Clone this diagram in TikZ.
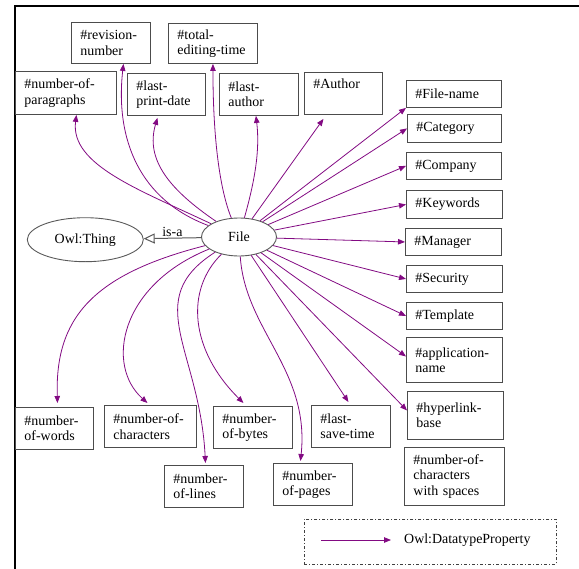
\documentclass[tikz,border=0pt]{standalone}
\usepackage{fontspec}
\setmainfont{Liberation Serif}
\usetikzlibrary{arrows.meta, shapes.geometric}
\definecolor{owlpurple}{RGB}{130,10,130}

\begin{document}
\begin{tikzpicture}[
    x=1bp, y=-1bp,
    >={Triangle[length=7bp, width=5.5bp]},
    pbox/.style={draw=black!70, line width=0.9bp, anchor=north west,
                 align=left, inner xsep=9bp, inner ysep=2bp,
                 font=\fontsize{14}{15.5}\selectfont},
    cls/.style={ellipse, draw=black!65, line width=0.9bp, inner sep=0pt,
                font=\fontsize{14}{15.5}\selectfont},
    dprop/.style={->, draw=owlpurple, line width=0.8bp},
    isa/.style={-{Triangle[open, length=11bp, width=10bp]}, draw=black!65,
                line width=1bp},
    legendbox/.style={draw=black!75, line width=0.8bp,
                      dash pattern=on 3bp off 2bp on 1bp off 2bp}
  ]
  \useasboundingbox (0,0) rectangle (579,569);
  % frame
  \draw[line width=2.3bp] (14.8,569) -- (14.8,5.8) -- (579,5.8);

  % classes
  \node[cls, minimum width=116bp, minimum height=44bp] (thing) at (85.3,239.7) {Owl:Thing};
  \node[cls, minimum width=75bp, minimum height=38bp] (file) at (239,237) {File};
  \draw[isa] (file) -- (thing) node[midway, above, font=\fontsize{14}{15.5}\selectfont, inner sep=1bp] {is-a};

  % upper properties
  \node[pbox, text width=61bp, minimum height=41bp] (revision) at (71,22) {\#revision-\\number};
  \node[pbox, text width=71bp, minimum height=40bp] (editing) at (168,23) {\#total-\\editing-time};
  \node[pbox, text width=83bp, minimum height=43bp] (paragraphs) at (15,71) {\#number-of-\\paragraphs};
  \node[pbox, text width=60bp, minimum height=42bp] (lastprint) at (127,73) {\#last-\\print-date};
  \node[pbox, text width=61bp, minimum height=42bp] (lastauthor) at (219,73) {\#last-\\author};
  \node[pbox, text width=60bp, minimum height=42bp] (author) at (304,72) {\#Author\\\strut};

  % right properties
  \node[pbox, text width=77bp, minimum height=27bp] (filename) at (406,80) {\#File-name};
  \node[pbox, text width=76bp, minimum height=28bp] (category) at (407,114) {\#Category};
  \node[pbox, text width=77bp, minimum height=27bp] (company) at (406,152) {\#Company};
  \node[pbox, text width=78bp, minimum height=28bp] (keywords) at (406,190) {\#Keywords};
  \node[pbox, text width=78bp, minimum height=27bp] (manager) at (405,228) {\#Manager};
  \node[pbox, text width=78bp, minimum height=27bp] (security) at (406,265) {\#Security};
  \node[pbox, text width=78bp, minimum height=27bp] (template) at (406,302) {\#Template};
  \node[pbox, text width=78bp, minimum height=45bp] (appname) at (406,337) {\#application-\\name};
  \node[pbox, text width=78bp, minimum height=48bp] (hyperlink) at (407,391) {\#hyperlink-\\base};
  \node[pbox, text width=82bp, minimum height=58bp] (charspaces) at (404,447) {\#number-of-\\characters\\with spaces};

  % lower properties
  \node[pbox, text width=60bp, minimum height=42bp] (words) at (15,407) {\#number-\\of-words};
  \node[pbox, text width=74bp, minimum height=42bp] (characters) at (104,405) {\#number-of-\\characters};
  \node[pbox, text width=61bp, minimum height=42bp] (bytes) at (213,406) {\#number-\\of-bytes};
  \node[pbox, text width=61bp, minimum height=42bp] (lines) at (164,465) {\#number-\\of-lines};
  \node[pbox, text width=61bp, minimum height=42bp] (pages) at (273,463) {\#number-\\of-pages};
  \node[pbox, text width=61bp, minimum height=42bp] (savetime) at (311,405) {\#last-\\save-time};

  % datatype properties, upper
  \draw[dprop] (file) .. controls (140,190) and (70,165) .. ([xshift=10.5bp]paragraphs.south);
  \draw[dprop] (file) .. controls (140,200) and (115,140) .. ([xshift=12.5bp]revision.south);
  \draw[dprop] (file) .. controls (170,190) and (145,160) .. ([xshift=-9bp, yshift=-2bp]lastprint.south);
  \draw[dprop] (file) .. controls (220,190) and (213,140) .. (editing.south);
  \draw[dprop] (file) .. controls (255,180) and (260,150) .. ([xshift=-3bp]lastauthor.south);
  \draw[dprop] (file) -- ([xshift=-20bp, yshift=-4bp]author.south);

  % datatype properties, right
  \draw[dprop] (file) -- (filename.south west);
  \draw[dprop] (file) -- (category.west);
  \draw[dprop] (file) -- (company.west);
  \draw[dprop] (file) -- (keywords.west);
  \draw[dprop] (file) -- (manager.west);
  \draw[dprop] (file) -- (security.west);
  \draw[dprop] (file) -- (template.west);
  \draw[dprop] (file) -- ([yshift=3.5bp]appname.west);
  \draw[dprop] (file) -- ([yshift=5bp]hyperlink.west);

  % datatype properties, lower
  \draw[dprop] (file) .. controls (90,275) and (55,320) .. ([xshift=3bp, yshift=4bp]words.north);
  \draw[dprop] (file) .. controls (120,285) and (105,365) .. ([xshift=-3bp, yshift=2bp]characters.north);
  \draw[dprop] (file) .. controls (140,300) and (200,350) .. ([xshift=1.5bp, yshift=2bp]lines.north);
  \draw[dprop] (file) .. controls (185,290) and (190,350) .. ([xshift=-9.5bp, yshift=3bp]bytes.north);
  \draw[dprop] (file) .. controls (245,330) and (310,370) .. ([xshift=-12.5bp, yshift=2bp]pages.north);
  \draw[dprop] (file) -- ([xshift=-2.5bp, yshift=3bp]savetime.north);

  % legend
  \node[legendbox, anchor=north west, minimum width=252bp, minimum height=45bp] (legend) at (304,519) {};
  \coordinate (lgstart) at (321,540);
  \node[anchor=west, inner sep=3bp, font=\fontsize{14}{15.5}\selectfont] (lgtext) at (401,540) {Owl:DatatypeProperty};
  \draw[dprop] (lgstart) -- ([xshift=-10bp]lgtext.west);
\end{tikzpicture}
\end{document}
